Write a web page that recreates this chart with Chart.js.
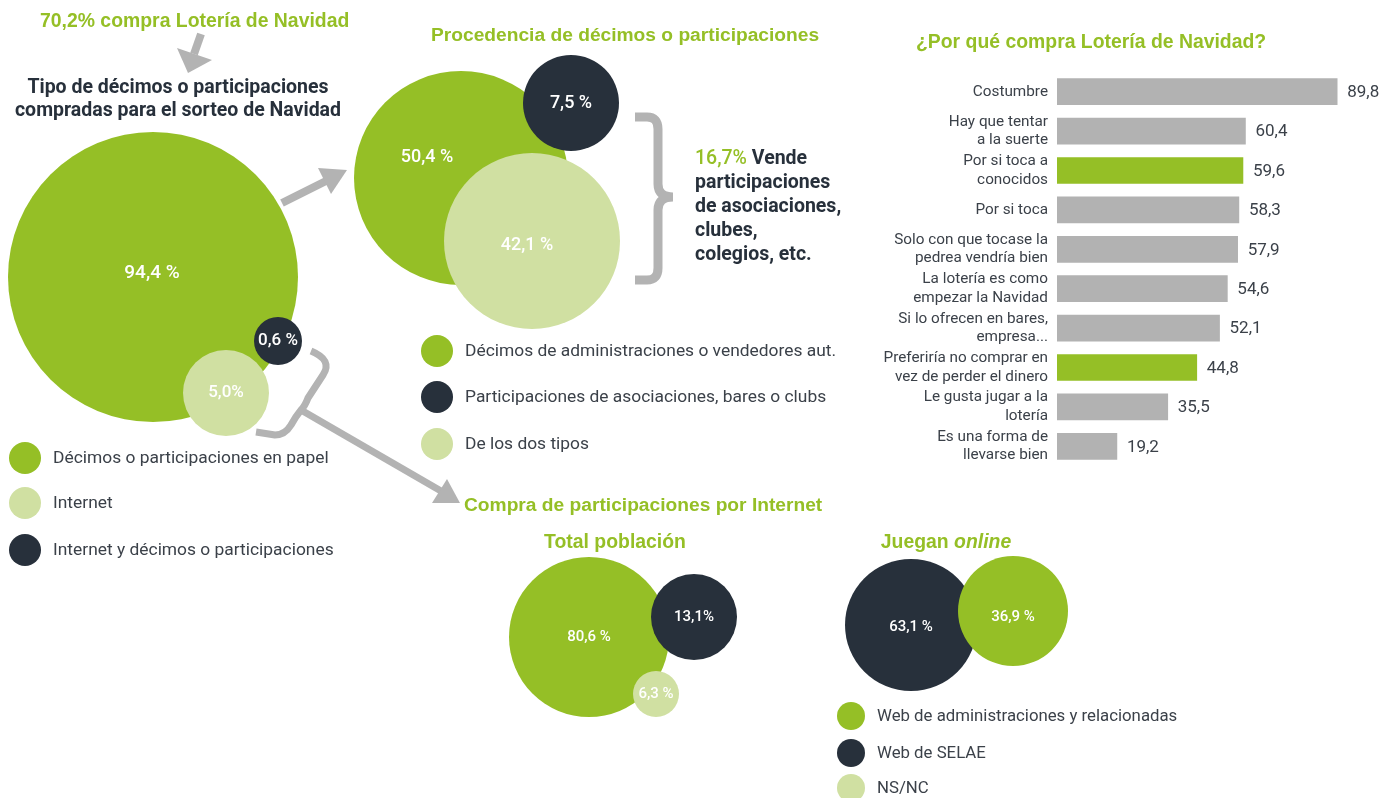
<!DOCTYPE html>
<html lang="es">
<head>
<meta charset="UTF-8">
<title>Lotería de Navidad</title>
<script src="https://cdn.jsdelivr.net/npm/chart.js"></script>
<style>
  body { margin: 0; background: #fff; font-family: Roboto, "Noto Sans", sans-serif; color: #3b4149; }
  #page { position: relative; width: 1382px; height: 798px; overflow: hidden; }
  canvas { position: absolute; }
  .t { position: absolute; white-space: nowrap; }
  .verde { color: #95bf26; font-family: "Liberation Sans", Arial, sans-serif; font-weight: bold; font-size: 19.4px; line-height: 24px; }
  .negro { color: #27303b; font-weight: bold; font-size: 19.5px; line-height: 23px; }
  .ley { font-size: 17.4px; line-height: 20px; color: #3b4149; }
  .dot { position: absolute; border-radius: 50%; }
  svg { position: absolute; left: 0; top: 0; }
</style>
</head>
<body>
<div id="page">
  <canvas id="burbujas" width="1382" height="798"></canvas>
  <canvas id="motivosChart" width="522" height="420" style="left:860px;top:60px"></canvas>
  <svg width="1382" height="798">
    <g fill="none" stroke="#b3b3b3" stroke-linejoin="round">
      <line x1="201" y1="34" x2="194" y2="54" stroke-width="8"/>
      <line x1="282" y1="203" x2="326" y2="181" stroke-width="8"/>
      <path d="M635,117 H647 Q658,117 658,129 V184 Q658,197 673,197 M673,197 Q658,197 658,210 V268 Q658,280 647,280 H635" stroke-width="9"/>
      <path d="M311,351 Q333,360 323,375 L308,398 Q305,406 301,410 Q296,416 291,425 Q285,435 275,435 L256,432" stroke-width="7"/>
      <line x1="301" y1="410" x2="441" y2="491" stroke-width="7"/>
    </g>
    <g fill="#b3b3b3">
      <polygon points="177,48 212,60 188,73"/>
      <polygon points="318,168 347,170 331,194"/>
      <polygon points="432,503 460,503 447,479"/>
    </g>
  </svg>
  <div id="textos"></div>
</div>
<script>
// datos
const tipoCategorias = ['Décimos o participaciones en papel', 'Internet', 'Internet y décimos o participaciones'];
const tipoValores = [94.4, 5.0, 0.6];
const tipoEtiquetas = ['94,4 %', '5,0%', '0,6 %'];

const procedenciaCategorias = ['Décimos de administraciones o vendedores aut.', 'Participaciones de asociaciones, bares o clubs', 'De los dos tipos'];
const procedenciaValores = [50.4, 7.5, 42.1];
const procedenciaEtiquetas = ['50,4 %', '7,5 %', '42,1 %'];

const webCategorias = ['Web de administraciones y relacionadas', 'Web de SELAE', 'NS/NC'];
const totalValores = [80.6, 13.1, 6.3];
const totalEtiquetas = ['80,6 %', '13,1%', '6,3 %'];
const onlineValores = [36.9, 63.1];
const onlineEtiquetas = ['36,9 %', '63,1 %'];

const motivos = [
  ['Costumbre'], ['Hay que tentar', 'a la suerte'], ['Por si toca a', 'conocidos'], ['Por si toca'],
  ['Solo con que tocase la', 'pedrea vendría bien'], ['La lotería es como', 'empezar la Navidad'],
  ['Si lo ofrecen en bares,', 'empresa...'], ['Preferiría no comprar en', 'vez de perder el dinero'],
  ['Le gusta jugar a la', 'lotería'], ['Es una forma de', 'llevarse bien']
];
const motivosValores = [89.8, 60.4, 59.6, 58.3, 57.9, 54.6, 52.1, 44.8, 35.5, 19.2];
const motivosEtiquetas = ['89,8', '60,4', '59,6', '58,3', '57,9', '54,6', '52,1', '44,8', '35,5', '19,2'];
const motivosDestacados = [2, 7];

const VERDE = '#95bf26', OSCURO = '#27303b', CLARO = '#d0e0a2', GRIS = '#b2b2b2';

// grupos de burbujas: colocacion en la pagina (x, y, radio) por categoria, en orden de dibujo
const grupos = [
  { valores: tipoValores, etiquetas: tipoEtiquetas, colores: [VERDE, CLARO, OSCURO], orden: [0, 1, 2],
    pos: [[153, 277, 145], [226, 393, 43], [278, 341, 24]], fuente: [19, 17, 17], desp: [[-1, -4], [0, 0], [0, 0]] },
  { valores: procedenciaValores, etiquetas: procedenciaEtiquetas, colores: [VERDE, OSCURO, CLARO], orden: [0, 1, 2],
    pos: [[461, 178, 107], [571, 103, 48], [532, 241, 88]], fuente: [18, 18, 18], desp: [[-34, -21], [0, 0], [-5, 4]] },
  { valores: totalValores, etiquetas: totalEtiquetas, colores: [VERDE, OSCURO, CLARO], orden: [0, 1, 2],
    pos: [[589, 637, 80], [694, 617, 43], [656, 694, 23]], fuente: [15, 15, 15] },
  { valores: onlineValores, etiquetas: onlineEtiquetas, colores: [VERDE, OSCURO], orden: [1, 0],
    pos: [[1013, 611, 55], [911, 625, 66]], fuente: [15, 15], desp: [[0, 6], [0, 2]] }
];

var puntos = [];
var coloresPuntos = [];
grupos.forEach(function (g) {
  g.orden.forEach(function (i) {
    var d = g.desp ? g.desp[i] : [0, 0];
    puntos.push({ x: g.pos[i][0], y: g.pos[i][1], r: g.pos[i][2], valor: g.valores[i], etiqueta: g.etiquetas[i], fuente: g.fuente[i], dx: d[0], dy: d[1] });
    coloresPuntos.push(g.colores[i]);
  });
});

const etiquetasBurbujas = {
  id: 'etiquetasBurbujas',
  afterDatasetsDraw(chart) {
    const ctx = chart.ctx;
    const meta = chart.getDatasetMeta(0);
    ctx.save();
    ctx.fillStyle = '#fff';
    ctx.textAlign = 'center';
    ctx.textBaseline = 'middle';
    meta.data.forEach(function (el, i) {
      const p = chart.data.datasets[0].data[i];
      ctx.font = '500 ' + p.fuente + 'px Roboto, sans-serif';
      ctx.fillText(p.etiqueta, el.x + p.dx, el.y + p.dy);
    });
    ctx.restore();
  }
};

new Chart(document.getElementById('burbujas'), {
  type: 'bubble',
  data: { datasets: [{ data: puntos, backgroundColor: coloresPuntos, borderWidth: 0, hoverBorderWidth: 0, hoverRadius: 0, clip: false }] },
  options: {
    responsive: false, animation: false, events: [],
    layout: { padding: 0, autoPadding: false },
    plugins: { legend: { display: false }, tooltip: { enabled: false } },
    scales: {
      x: { type: 'linear', min: 0, max: 1382, display: false },
      y: { type: 'linear', min: 0, max: 798, reverse: true, display: false }
    }
  },
  plugins: [etiquetasBurbujas]
});

const etiquetasBarras = {
  id: 'etiquetasBarras',
  afterDatasetsDraw(chart) {
    const ctx = chart.ctx;
    ctx.save();
    ctx.fillStyle = '#3b4149';
    ctx.font = '17px Roboto, sans-serif';
    ctx.textAlign = 'left';
    ctx.textBaseline = 'middle';
    chart.getDatasetMeta(0).data.forEach(function (bar, i) {
      ctx.fillText(motivosEtiquetas[i], bar.x + 10, bar.y + 1);
    });
    ctx.restore();
  }
};

new Chart(document.getElementById('motivosChart'), {
  type: 'bar',
  data: {
    labels: motivos,
    datasets: [{
      data: motivosValores,
      backgroundColor: motivosValores.map(function (v, i) { return motivosDestacados.indexOf(i) >= 0 ? VERDE : GRIS; }),
      barThickness: 26,
      borderWidth: 0
    }]
  },
  options: {
    indexAxis: 'y', responsive: false, animation: false, events: [],
    layout: { padding: { top: 12, bottom: 14, right: 13, left: 0 }, autoPadding: false },
    plugins: { legend: { display: false }, tooltip: { enabled: false } },
    scales: {
      x: { min: 0, max: 100, display: false },
      y: {
        grid: { display: false, drawTicks: false }, border: { display: false },
        ticks: { color: '#3b4149', padding: 9, autoSkip: false, font: { size: 15.3, family: 'Roboto', lineHeight: 1.22 } },
        afterFit: function (s) { s.width = 197; s.paddingTop = 0; s.paddingBottom = 0; }
      }
    }
  },
  plugins: [etiquetasBarras]
});

// textos y leyendas
const textos = document.getElementById('textos');
function texto(html, clase, left, top, extra) {
  const d = document.createElement('div');
  d.className = 't ' + clase;
  d.innerHTML = html;
  d.style.left = left + 'px';
  d.style.top = top + 'px';
  if (extra) d.style.cssText += extra;
  textos.appendChild(d);
}
function leyenda(categorias, colores, x, ys, r, tam) {
  categorias.forEach(function (c, i) {
    const d = document.createElement('div');
    d.className = 'dot';
    d.style.cssText = 'left:' + (x - r) + 'px;top:' + (ys[i] - r) + 'px;width:' + (2 * r) + 'px;height:' + (2 * r) + 'px;background:' + colores[i];
    textos.appendChild(d);
    texto(c, 'ley', x + 28 - (16 - r), ys[i] - 11, 'font-size:' + tam + 'px');
  });
}

texto('70,2% compra Lotería de Navidad', 'verde', 40, 8);
texto('Tipo de décimos o participaciones<br>compradas para el sorteo de Navidad', 'negro', 178, 75, 'transform:translateX(-50%);text-align:center');
texto('Procedencia de décimos o participaciones', 'verde', 431, 23, 'font-size:19.2px');
texto('¿Por qué compra Lotería de Navidad?', 'verde', 916, 29);
texto('<span style="color:#95bf26;font-weight:500">16,7%</span> Vende<br>participaciones<br>de asociaciones,<br>clubes,<br>colegios, etc.', 'negro', 695, 146, 'line-height:24px');
texto('Compra de participaciones por Internet', 'verde', 464, 493, 'font-size:19.2px');
texto('Total población', 'verde', 615, 529, 'transform:translateX(-50%)');
texto('Juegan <i>online</i>', 'verde', 946, 529, 'transform:translateX(-50%)');

leyenda(tipoCategorias, [VERDE, CLARO, OSCURO], 25, [458, 503, 550], 16, 17.4);
leyenda(procedenciaCategorias, [VERDE, OSCURO, CLARO], 437, [351, 397, 444], 16, 17.4);
leyenda(webCategorias, [VERDE, OSCURO, CLARO], 851, [716, 753, 788], 14, 16.8);
</script>
</body>
</html>
